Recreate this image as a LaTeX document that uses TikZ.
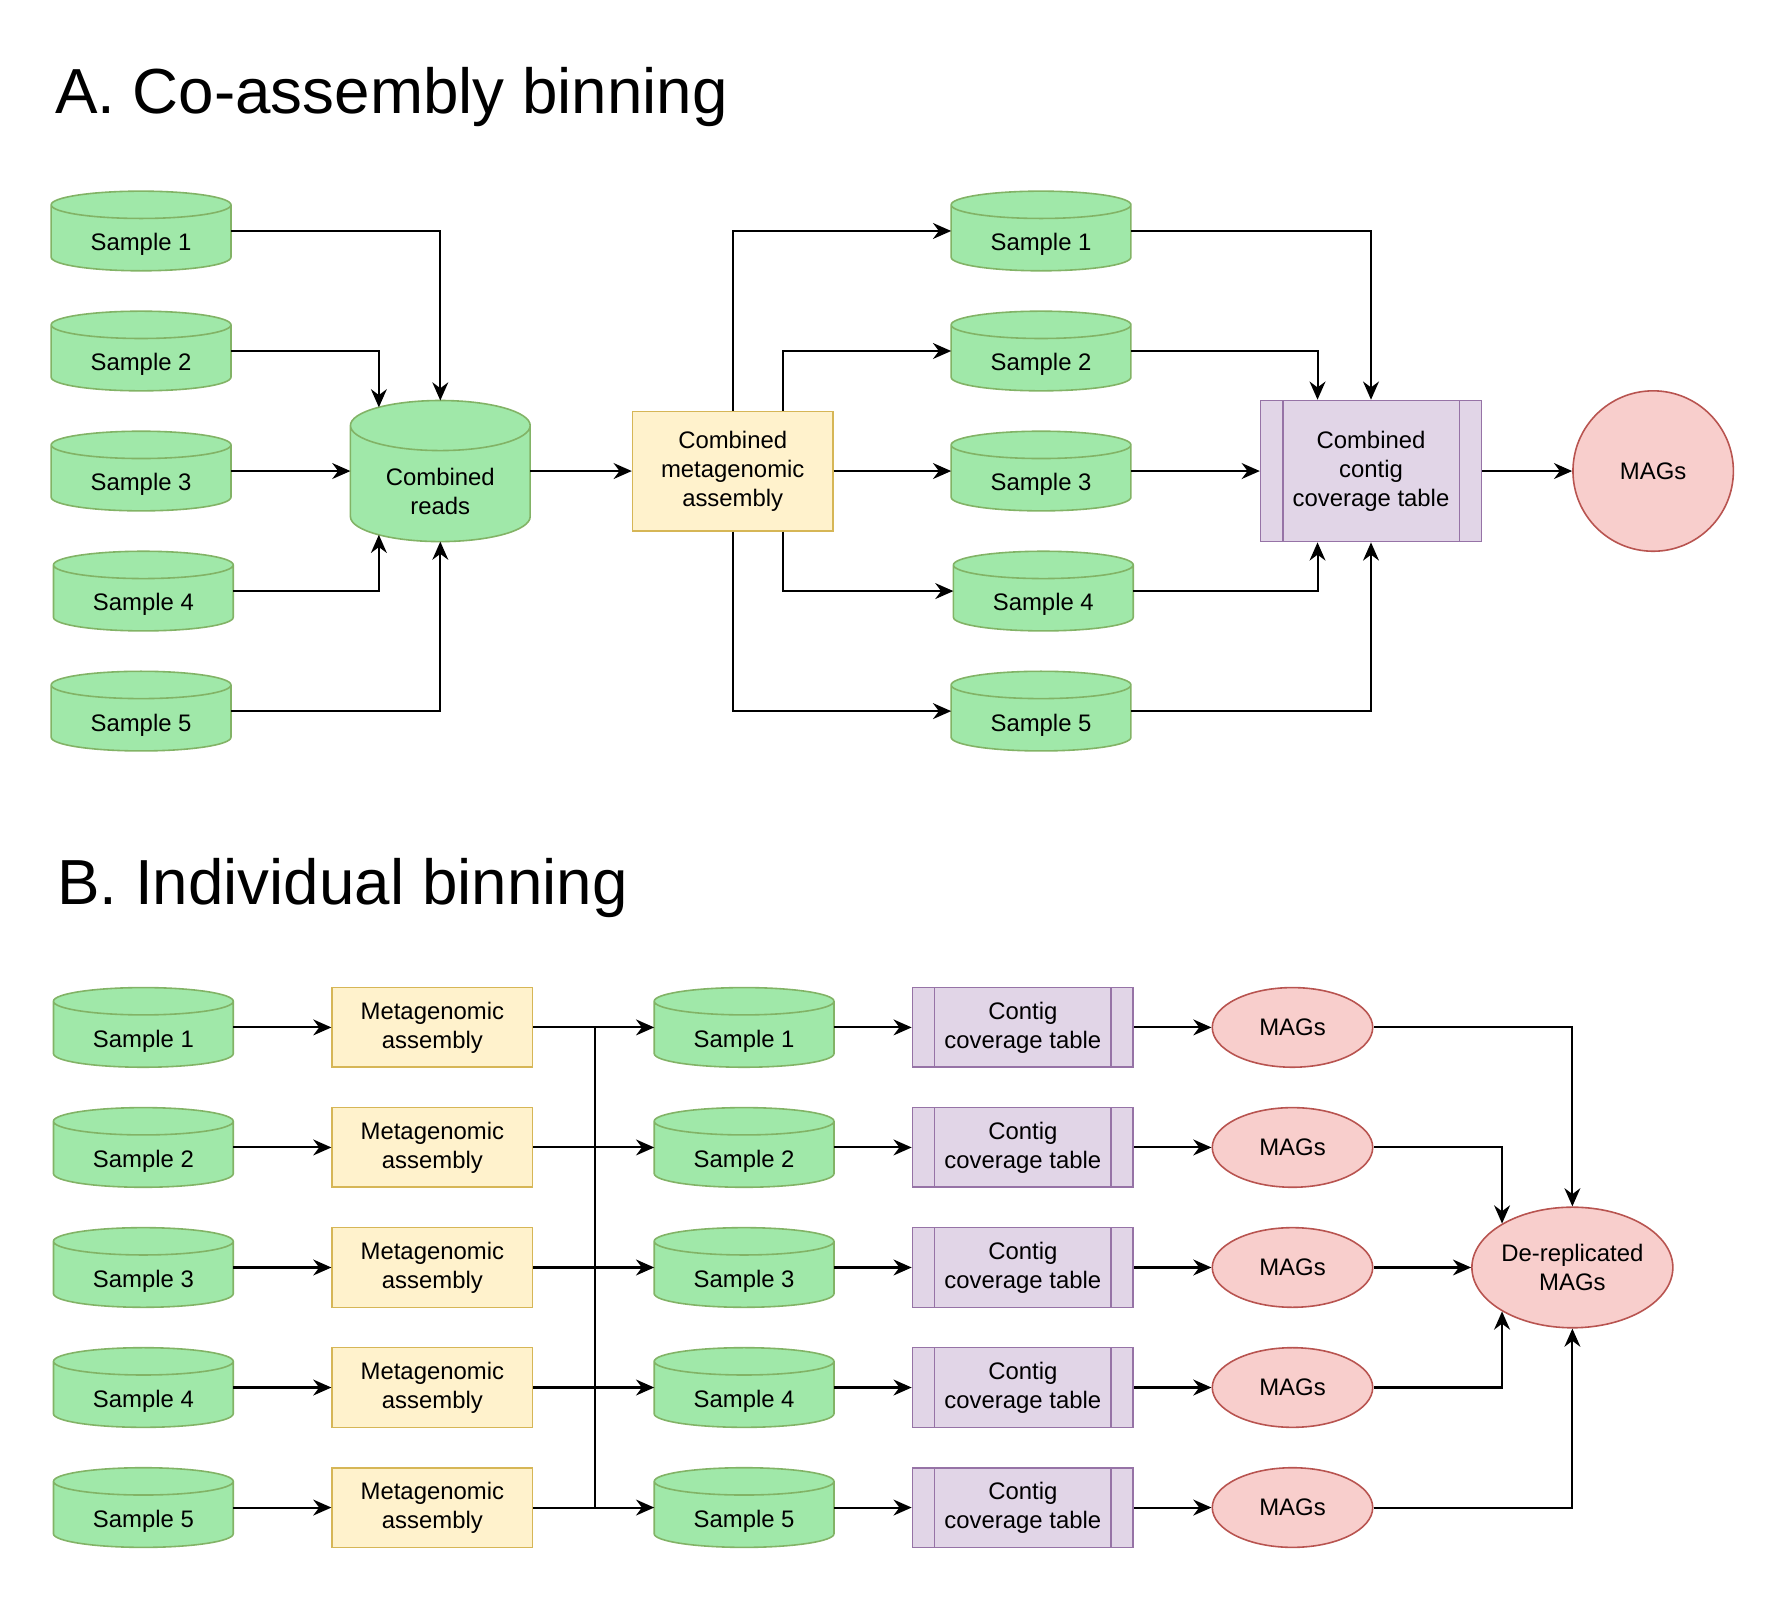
\documentclass[tikz,border=0pt]{standalone}
\usepackage{fontspec}
\setmainfont{Liberation Sans}
\usetikzlibrary{shapes.geometric,arrows.meta,calc,backgrounds,positioning}

\definecolor{drumfill}{HTML}{A0E8A9}
\definecolor{drumedge}{HTML}{82B366}
\definecolor{asmfill}{HTML}{FFF2CC}
\definecolor{asmedge}{HTML}{D6B656}
\definecolor{tabfill}{HTML}{E1D5E7}
\definecolor{tabedge}{HTML}{9673A6}
\definecolor{magfill}{HTML}{F8CECC}
\definecolor{magedge}{HTML}{B85450}

% cylinder drawn behind a node: [ellipse y radius]{node}
\newcommand{\drum}[2][6pt]{%
  \path[fill=drumfill, draw=drumedge, line width=0.7pt]
    let \p1=(#2.north west), \p2=(#2.south east) in
    (\x1,\y1-#1) -- (\x1,\y2+#1)
    arc[start angle=180, end angle=360, x radius={(\x2-\x1)/2}, y radius=#1]
    -- (\x2,\y1-#1)
    arc[start angle=0, end angle=180, x radius={(\x2-\x1)/2}, y radius=#1] -- cycle
    (\x1,\y1-#1)
    arc[start angle=180, end angle=360, x radius={(\x2-\x1)/2}, y radius=#1];
}

\begin{document}
\begin{tikzpicture}[x=0.5pt, y=-0.5pt]
	\tikzstyle{txt}=[font=\fontsize{10.5}{12.8}\selectfont, inner sep=2pt]
	\tikzstyle{sample}=[txt, rectangle, minimum width=79pt, minimum height=35pt, outer sep=0pt, text height=20pt, text depth=2.5pt]
	\tikzstyle{pool}=[txt, rectangle, minimum width=79pt, minimum height=62pt, outer sep=0pt]
	\tikzstyle{asm}=[txt, align=center, rectangle, draw=asmedge, fill=asmfill, line width=0.7pt, minimum width=88pt, minimum height=35pt]
	\tikzstyle{covtab}=[txt, align=center, rectangle, draw=tabedge, fill=tabfill, line width=0.7pt, minimum width=97pt, minimum height=35pt,
		path picture={\draw[tabedge, line width=0.7pt]
			([xshift=9.7pt]path picture bounding box.north west) -- ([xshift=9.7pt]path picture bounding box.south west)
			([xshift=-9.7pt]path picture bounding box.north east) -- ([xshift=-9.7pt]path picture bounding box.south east);}]
	\tikzstyle{bin}=[txt, align=center, ellipse, draw=magedge, fill=magfill, line width=0.7pt, minimum width=70.5pt, minimum height=35pt, inner sep=0pt]
	\tikzstyle{connect}=[-{Stealth[length=8pt, width=7pt, inset=2.6pt]}, line width=0.9pt]
	\tikzstyle{heading}=[font=\fontsize{28}{34}\selectfont, inner sep=0pt, anchor=base west]

	\useasboundingbox (0,0) rectangle (1568,1404.6);

	\node[heading] (ha) at (48,100) {A. Co-assembly binning};
	\node[heading] (hb) at (50,795) {B. Individual binning};

	% co-assembly
	\node[sample] (a1) at (124,203) {Sample 1};
	\node[sample] (a2) at (124,308.5) {Sample 2};
	\node[sample] (a3) at (124,414) {Sample 3};
	\node[sample] (a4) at (126,519.5) {Sample 4};
	\node[sample] (a5) at (124,625) {Sample 5};
	\node[pool, label={[txt, align=center, yshift=-9pt]center:Combined\\reads}] (reads) at (387,414) {};
	\node[asm, minimum height=52.5pt] (asm) at (644,414) {Combined\\metagenomic\\assembly};
	\node[sample] (c1) at (915,203) {Sample 1};
	\node[sample] (c2) at (915,308.5) {Sample 2};
	\node[sample] (c3) at (915,414) {Sample 3};
	\node[sample] (c4) at (917,519.5) {Sample 4};
	\node[sample] (c5) at (915,625) {Sample 5};
	\node[covtab, minimum height=62pt] (cov) at (1205,414) {Combined\\contig\\coverage table};
	\node[bin, circle, minimum size=70.5pt] (mags) at (1453,414) {MAGs};

	% individual binning
	\foreach \i in {1,...,5} {
		\pgfmathsetmacro\y{903+(\i-1)*105.5}
		\node[sample] (bs\i) at (126,\y) {Sample \i};
		\node[asm] (bm\i) at (380,\y) {Metagenomic\\assembly};
		\node[sample] (bt\i) at (654,\y) {Sample \i};
		\node[covtab] (bc\i) at (899,\y) {Contig\\coverage table};
		\node[bin] (bg\i) at (1136,\y) {MAGs};
	}
	\node[bin, minimum width=88pt, minimum height=53pt] (derep) at (1382,1114) {De-replicated\\MAGs};

	\begin{scope}[on background layer]
		\foreach \nd in {a1,a2,a3,a4,a5,c1,c2,c3,c4,c5} {\drum{\nd}}
		\drum[11pt]{reads}
		\foreach \i in {1,...,5} {\drum{bs\i} \drum{bt\i}}
	\end{scope}

	\draw[connect] (a1.east) -| (reads.north);
	\draw[connect] (a2.east) -| ($(reads.north)+(-54,6)$);
	\draw[connect] (a3.east) -- (reads.west);
	\draw[connect] (a4.east) -| ($(reads.south)+(-54,-6)$);
	\draw[connect] (a5.east) -| (reads.south);
	\draw[connect] (reads.east) -- (asm.west);
	\draw[connect] (asm.north) |- (c1.west);
	\draw[connect] ($(asm.north)+(44,0)$) |- (c2.west);
	\draw[connect] (asm.east) -- (c3.west);
	\draw[connect] ($(asm.south)+(44,0)$) |- (c4.west);
	\draw[connect] (asm.south) |- (c5.west);
	\draw[connect] (c1.east) -| (cov.north);
	\draw[connect] (c2.east) -| ($(cov.north)+(-47,0)$);
	\draw[connect] (c3.east) -- (cov.west);
	\draw[connect] (c4.east) -| ($(cov.south)+(-47,0)$);
	\draw[connect] (c5.east) -| (cov.south);
	\draw[connect] (cov.east) -- (mags.west);

	\foreach \i in {1,...,5} {
		\draw[connect] (bs\i.east) -- (bm\i.west);
		\draw[connect] (bm\i.east) -- (bt\i.west);
		\draw[connect] (bt\i.east) -- (bc\i.west);
		\draw[connect] (bc\i.east) -- (bg\i.west);
	}
	\coordinate (bus) at (523,903);
	\draw[line width=0.9pt] (bus) -- (bus |- bm5.east);

	\draw[connect] (bg1.east) -| (derep.north);
	\draw[connect] (bg2.east) -| (derep.148);
	\draw[connect] (bg3.east) -- (derep.west);
	\draw[connect] (bg4.east) -| (derep.212);
	\draw[connect] (bg5.east) -| (derep.south);
\end{tikzpicture}
\end{document}
